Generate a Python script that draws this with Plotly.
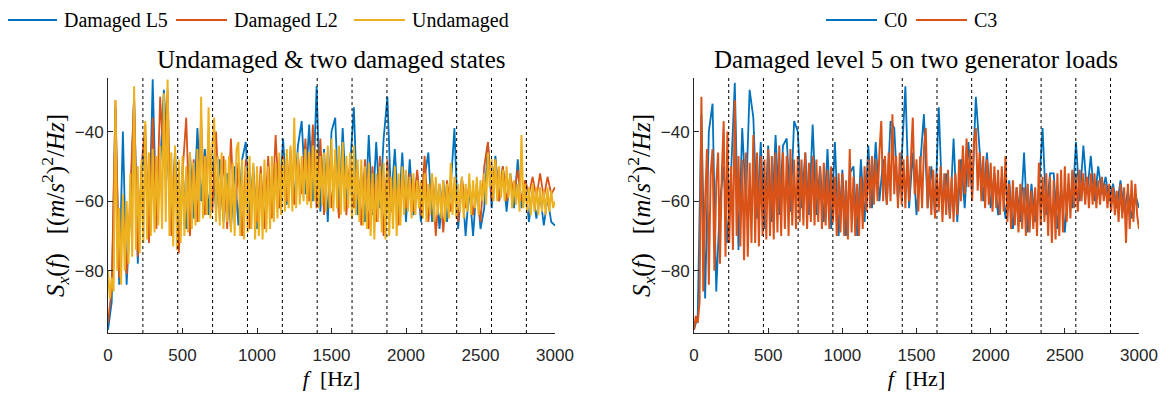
import plotly.graph_objects as go

# Frequency grids (Hz)
freq = list(range(0, 3001, 25))               # coarse grid: 0, 25, ..., 3000
freq_fine = [i * 12.5 for i in range(241)]    # fine grid: 0, 12.5, ..., 3000

# Left panel: undamaged & two damaged states  (dB), coarse grid
damaged_l5 = [-97, -89, -33, -84, -40, -84, -62, -30, -78, -52, -45, -70, -25, -66, -50, -28,
              -48, -68, -45, -74, -50, -68, -46, -65, -39, -60, -45, -64, -46, -63, -48, -66,
              -52, -68, -50, -67, -48, -43, -65, -50, -68, -55, -67, -52, -64, -50, -62, -42,
              -61, -48, -60, -44, -37, -58, -38, -60, -27, -63, -45, -66, -40, -36, -64, -39,
              -60, -50, -33, -64, -52, -66, -41, -64, -43, -62, -42, -30, -60, -45, -64, -46,
              -66, -48, -64, -52, -66, -53, -46, -66, -55, -68, -54, -66, -56, -39, -68, -54,
              -70, -56, -70, -55, -68, -62, -43, -62, -47, -60, -50, -63, -52, -62, -48, -62,
              -55, -66, -57, -65, -58, -67, -59, -66, -67]
damaged_l2 = [-95, -85, -31, -82, -62, -81, -58, -30, -76, -50, -38, -72, -36, -68, -30, -50,
              -28, -70, -47, -75, -52, -36, -70, -48, -66, -36, -64, -40, -63, -40, -65, -47,
              -68, -42, -66, -49, -70, -48, -68, -52, -66, -50, -68, -47, -65, -41, -62, -47,
              -60, -45, -61, -47, -58, -42, -60, -38, -62, -42, -64, -46, -62, -48, -65, -47,
              -64, -48, -62, -50, -67, -48, -68, -50, -66, -47, -70, -48, -63, -53, -67, -51,
              -62, -52, -63, -51, -64, -47, -66, -53, -70, -55, -69, -54, -63, -55, -66, -53,
              -62, -55, -64, -56, -66, -50, -43, -60, -48, -60, -50, -60, -53, -58, -51, -60,
              -54, -58, -53, -59, -52, -59, -53, -58, -56]
# Undamaged, fine grid (drawn on top)
undamaged = [-80, -88, -82, -86, -31, -80, -62, -84,
             -58, -80, -60, -78, -52, -76, -27, -74,
             -50, -75, -48, -72, -37, -71, -46, -70,
             -45, -69, -47, -67, -44, -68, -29, -66,
             -25, -70, -46, -73, -44, -74, -48, -72,
             -47, -70, -50, -69, -46, -68, -49, -67,
             -45, -66, -30, -65, -47, -64, -33, -65,
             -44, -36, -66, -47, -67, -46, -68, -48,
             -66, -47, -69, -49, -70, -45, -43, -70,
             -48, -71, -50, -69, -47, -68, -49, -71,
             -50, -70, -52, -71, -48, -69, -50, -68,
             -47, -66, -49, -65, -46, -64, -48, -63,
             -45, -62, -44, -63, -36, -62, -46, -61,
             -47, -60, -45, -61, -46, -62, -44, -60,
             -45, -62, -47, -61, -46, -63, -44, -62,
             -42, -63, -45, -62, -44, -64, -43, -63,
             -47, -62, -46, -65, -44, -64, -48, -66,
             -48, -67, -50, -68, -49, -70, -52, -71,
             -52, -66, -50, -69, -49, -71, -51, -70,
             -53, -68, -50, -70, -52, -67, -50, -64,
             -51, -63, -53, -65, -52, -64, -54, -62,
             -54, -65, -52, -66, -55, -64, -52, -66,
             -53, -64, -55, -65, -54, -66, -55, -65,
             -49, -64, -53, -65, -55, -63, -53, -65,
             -55, -63, -52, -64, -54, -62, -53, -64,
             -54, -60, -52, -61, -46, -56, -48, -60,
             -48, -60, -50, -59, -51, -60, -50, -59,
             -52, -62, -54, -61, -55, -63, -41, -62,
             -55, -63, -56, -64, -55, -63, -56, -64,
             -56, -63, -57, -64, -56, -63, -57, -62,
             -60]

# Right panel: damaged level 5 on two generator loads  (dB)
c0 = [-97, -93, -35, -88, -40, -32, -86, -60, -50, -72, -52, -26, -74, -39, -60, -28,
      -36, -65, -43, -68, -44, -66, -41, -64, -44, -42, -63, -37, -40, -62, -46, -64,
      -38, -64, -50, -66, -45, -68, -43, -70, -51, -70, -52, -50, -70, -48, -66, -44,
      -62, -43, -60, -48, -61, -37, -39, -60, -48, -27, -62, -46, -64, -48, -35, -62,
      -50, -64, -33, -62, -52, -65, -42, -66, -48, -62, -43, -58, -30, -45, -60, -46,
      -62, -52, -64, -53, -65, -54, -68, -56, -66, -46, -69, -55, -66, -57, -39, -64,
      -52, -52, -68, -56, -69, -55, -62, -43, -60, -44, -58, -47, -60, -50, -58, -53,
      -60, -55, -62, -54, -63, -57, -65, -58, -62]
# C3, fine grid (drawn on top)
c3 = [-97, -93, -95, -89, -30, -86, -60, -45,
      -84, -52, -45, -80, -55, -46, -78, -52,
      -37, -76, -40, -72, -50, -74, -31, -70,
      -47, -73, -48, -77, -46, -76, -49, -72,
      -41, -72, -46, -73, -47, -70, -48, -71,
      -45, -70, -47, -71, -46, -69, -44, -70,
      -46, -68, -47, -70, -45, -67, -48, -68,
      -47, -66, -48, -67, -46, -68, -49, -66,
      -47, -67, -48, -66, -50, -68, -49, -67,
      -51, -68, -50, -66, -53, -70, -52, -69,
      -52, -70, -54, -71, -45, -69, -53, -70,
      -55, -70, -53, -68, -50, -63, -48, -62,
      -47, -61, -48, -60, -46, -37, -60, -47,
      -61, -46, -60, -35, -58, -47, -62, -46,
      -61, -48, -62, -47, -60, -49, -36, -58,
      -48, -63, -47, -62, -45, -39, -62, -50,
      -64, -51, -65, -52, -63, -50, -66, -52,
      -64, -51, -65, -53, -66, -52, -64, -48,
      -60, -44, -58, -42, -56, -45, -60, -43,
      -39, -57, -46, -60, -47, -62, -48, -61,
      -49, -63, -50, -62, -51, -64, -50, -63,
      -47, -66, -55, -68, -54, -67, -56, -69,
      -55, -68, -56, -70, -55, -69, -57, -68,
      -56, -70, -49, -67, -53, -66, -52, -70,
      -53, -72, -54, -71, -52, -70, -51, -69,
      -50, -66, -52, -65, -51, -62, -52, -63,
      -51, -60, -52, -61, -53, -62, -52, -61,
      -52, -62, -54, -61, -53, -60, -55, -62,
      -55, -63, -56, -64, -57, -66, -55, -65,
      -56, -72, -55, -68, -54, -66, -55, -64,
      -68]

# Rotor harmonic markers (Hz)
harmonics = [234 * k for k in range(1, 13)]

# Legend entries (label, colour) per panel
legend_left = [("Damaged L5", "#0072BD"), ("Damaged L2", "#D95319"), ("Undamaged", "#EDB120")]
legend_right = [("C0", "#0072BD"), ("C3", "#D95319")]

BLUE, ORANGE, YELLOW = "#0072BD", "#D95319", "#EDB120"
SERIF = "Liberation Serif, DejaVu Serif, serif"
SANS = "Liberation Sans, Arial, Helvetica, sans-serif"
AX = "#262626"

# The page body adds an 8 px margin, so the figure is drawn 8 px smaller and
# every layout position below is given in page pixels minus that offset.
OFF = 8
W, H = 1173 - OFF, 396 - OFF


def px(x):
    return (x - OFF) / W


def py(y):
    return 1 - (y - OFF) / H


fig = go.Figure()
fig.add_trace(go.Scatter(x=freq, y=damaged_l5, mode="lines", name="Damaged L5", showlegend=False,
                         line=dict(color=BLUE, width=1.8), xaxis="x", yaxis="y"))
fig.add_trace(go.Scatter(x=freq, y=damaged_l2, mode="lines", name="Damaged L2", showlegend=False,
                         line=dict(color=ORANGE, width=1.8), xaxis="x", yaxis="y"))
fig.add_trace(go.Scatter(x=freq_fine, y=undamaged, mode="lines", name="Undamaged", showlegend=False,
                         line=dict(color=YELLOW, width=2.0), xaxis="x", yaxis="y"))
fig.add_trace(go.Scatter(x=freq, y=c0, mode="lines", name="C0", showlegend=False,
                         line=dict(color=BLUE, width=1.8), xaxis="x2", yaxis="y2"))
fig.add_trace(go.Scatter(x=freq_fine, y=c3, mode="lines", name="C3", showlegend=False,
                         line=dict(color=ORANGE, width=2.0), xaxis="x2", yaxis="y2"))

shapes = []
for xr, yr in (("x", "y domain"), ("x2", "y2 domain")):
    for h in harmonics:
        shapes.append(dict(type="line", xref=xr, yref=yr, x0=h, x1=h, y0=0, y1=1,
                           line=dict(color="black", width=1, dash="dot"), layer="above"))

annotations = []
ly = py(20)
# manual legends: (line start px, text start px) in page pixels
left_pos = [(6, 62), (176, 232), (354, 410)]
right_pos = [(826, 882), (916, 972)]
for entries, pos in ((legend_left, left_pos), (legend_right, right_pos)):
    for (label, col), (x0, xt) in zip(entries, pos):
        shapes.append(dict(type="line", xref="paper", yref="paper", x0=px(x0), x1=px(x0 + 51),
                           y0=ly, y1=ly, line=dict(color=col, width=2)))
        annotations.append(dict(text=label, xref="paper", yref="paper", x=px(xt), y=ly,
                                xanchor="left", yanchor="middle", showarrow=False,
                                font=dict(family=SERIF, size=20, color="black")))

annotations += [
    dict(text="Undamaged &amp; two damaged states", xref="paper", yref="paper",
         x=px(331), y=py(60), xanchor="center", yanchor="middle", showarrow=False,
         font=dict(family=SERIF, size=25, color="black")),
    dict(text="Damaged level 5 on two generator loads", xref="paper", yref="paper",
         x=px(916), y=py(60), xanchor="center", yanchor="middle", showarrow=False,
         font=dict(family=SERIF, size=25, color="black")),
]

ydom = [py(333), py(78)]
ytitle = ("<i>S<sub>x</sub></i>(<i>f</i>)&nbsp;&nbsp;&nbsp;[(<i>m</i>/<i>s</i><sup>2</sup>)"
          "<sup>2</sup>/<i>Hz</i>]")
xcommon = dict(range=[0, 3000], tickvals=[0, 500, 1000, 1500, 2000, 2500, 3000],
               ticks="inside", ticklen=5, tickcolor=AX, showline=True, linecolor=AX,
               linewidth=1, showgrid=False, zeroline=False, automargin=False,
               ticklabelstandoff=7,
               tickfont=dict(family=SANS, size=17, color=AX),
               title=dict(text="<i>f</i>&nbsp;&nbsp;[Hz]", font=dict(family=SERIF, size=22, color="black"),
                          standoff=6))
ycommon = dict(range=[-97.9, -24.6], tickvals=[-80, -60, -40], ticks="inside", ticklen=5,
               tickcolor=AX, showline=True, linecolor=AX, linewidth=1, showgrid=False,
               zeroline=False, domain=ydom, automargin=False,
               tickfont=dict(family=SANS, size=17, color=AX),
               title=dict(text=ytitle, font=dict(family=SERIF, size=25, color="black"),
                          standoff=3))

fig.update_layout(
    width=W, height=H,
    margin=dict(l=0, r=0, t=0, b=0, autoexpand=False),
    paper_bgcolor="white", plot_bgcolor="white",
    xaxis=dict(domain=[px(108), px(555)], anchor="y", **xcommon),
    yaxis=dict(anchor="x", **ycommon),
    xaxis2=dict(domain=[px(694), px(1139)], anchor="y2", **xcommon),
    yaxis2=dict(anchor="x2", **ycommon),
    shapes=shapes,
    annotations=annotations,
    showlegend=False,
)

fig.write_html("out.html")
